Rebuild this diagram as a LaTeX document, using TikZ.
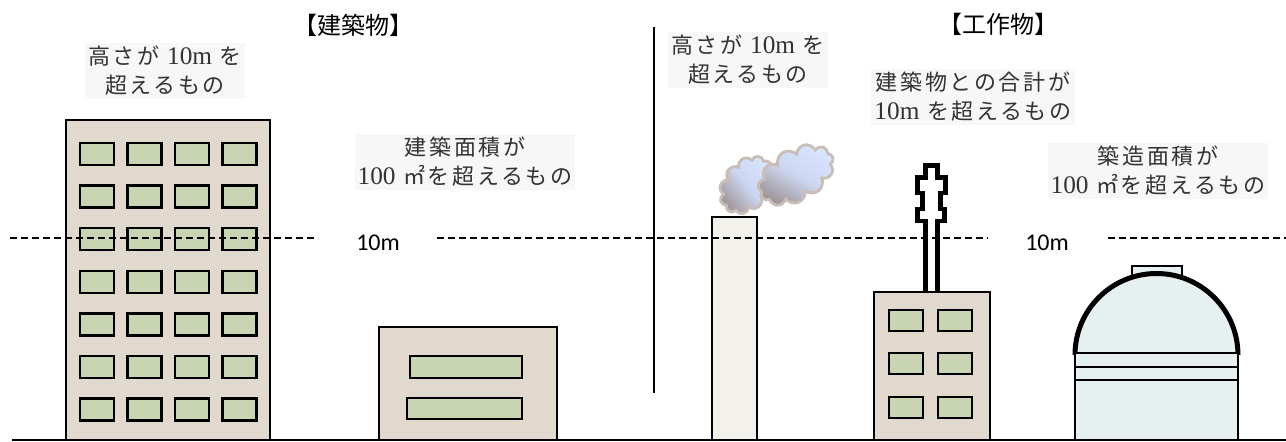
\documentclass[tikz,border=0pt]{standalone}
\usepackage{fontspec}
\setmainfont{Noto Sans CJK JP}
\newfontfamily\notefont[LetterSpace=12]{Noto Sans CJK JP}
\newfontfamily\latinfont[Scale=1.15]{Liberation Serif}
\newfontfamily\numfont{Carlito}
\newcommand\lat[1]{{\latinfont #1}}
\usetikzlibrary{math,shapes.symbols}

\definecolor{wall}{HTML}{E2D9CE}
\definecolor{pane}{HTML}{C9D4B3}
\definecolor{stack}{HTML}{F3F1EC}
\definecolor{tank}{HTML}{E7F0F1}
\definecolor{puffline}{HTML}{C9BDB5}
\definecolor{pufftop}{HTML}{D8E5FF}
\definecolor{puffmid}{HTML}{CCD6F0}
\definecolor{puffbot}{HTML}{A0979A}

\tikzset{
  wallbox/.style={draw,fill=wall,line width=1.6pt},
  winbox/.style={draw,fill=pane,line width=2.4pt},
  notebox/.style={align=center,fill=black!3,inner sep=3pt,text=black!80,
    font=\notefont\fontsize{22}{29}\selectfont},
  titletext/.style={font=\fontsize{24}{26}\selectfont},
  tenlabel/.style={font=\numfont\fontsize{24}{26}\selectfont},
  tenline/.style={line width=2pt,dash pattern=on 7pt off 4pt},
  smoke/.style={cloud,cloud puffs=11,draw=puffline,line width=2.8pt,
    top color=pufftop,bottom color=puffbot,middle color=puffmid}
}

\begin{document}
\begin{tikzpicture}[x=1pt,y=-1pt]
  \useasboundingbox (0,0) rectangle (1286,442);

  % tall building, 4 x 7 windows
  \draw[wallbox] (66,120) rectangle (270,440);
  \foreach \r in {0,...,6}
    \foreach \c in {0,...,3} {
      \tikzmath{
        real \wx, \wy;
        \wx = 80 + 47.5*\c;
        \wy = 143 + 42.6*\r;
      }
      \draw[winbox] (\wx,\wy) rectangle ++(34,22);
    }

  % low building
  \draw[wallbox] (379,327) rectangle (557,440);
  \draw[winbox] (410,356) rectangle (522,378);
  \draw[winbox] (407,398) rectangle (522,419);

  % divider
  \draw[line width=2.6pt] (654,27) -- (654,393);

  % chimney and smoke
  \draw[fill=stack,line width=1.6pt] (712,217) rectangle (757,440);
  \node[smoke,shading angle=-50,minimum width=64pt,minimum height=48pt,rotate=50] (puffa) at (747,185) {};
  \node[smoke,shading angle=-30,minimum width=82pt,minimum height=52pt,rotate=30] (puffb) at (796,175) {};

  % antenna on the small building
  \draw[fill=white,line width=4.5pt]
    (925.5,165.5) -- (937.5,165.5) -- (937.5,177.5) -- (945.5,177.5) -- (945.5,193)
    -- (940.5,193) -- (940.5,209) -- (944.5,209) -- (944.5,221) -- (937.5,221)
    -- (937.5,294) -- (925.5,294) -- (925.5,221) -- (917.5,221) -- (917.5,209)
    -- (922.5,209) -- (922.5,193) -- (917.5,193) -- (917.5,177.5) -- (925.5,177.5) -- cycle;
  \draw[wallbox] (874,292) rectangle (990,440);
  \foreach \wy in {310,353,397}
    \foreach \wx in {889,938}
      \draw[winbox] (\wx,\wy) rectangle ++(34,21);

  % tank with dome
  \draw[fill=tank,line width=1.6pt] (1132,266) rectangle (1182,276);
  \draw[fill=tank,line width=5pt] (1075,355) arc[start angle=180,end angle=360,radius=81.5];
  \draw[fill=tank,line width=2pt] (1075,353) rectangle (1238,440);
  \draw[line width=2pt] (1075,367) -- (1238,367) (1075,380) -- (1238,380);

  % 10m level
  \node[tenlabel] (tena) at (378,243) {10m};
  \node[tenlabel] (tenb) at (1047,243) {10m};
  \draw[tenline] (10,238) -- (318,238);
  \draw[tenline] (437,238) -- (988,238);
  \draw[tenline] (1108,238) -- (1286,238);

  % ground
  \draw[line width=2.6pt] (12,440) -- (1286,440);

  % headings and notes
  \node[titletext] (bldg) at (353,25) {【建築物】};
  \node[titletext] (work) at (998,24) {【工作物】};
  \node[notebox] (bldgh) at (165,71) {高さが \lat{10m} を\\超えるもの};
  \node[notebox] (bldga) at (465,162) {建築面積が\\\lat{100} ㎡を超えるもの};
  \node[notebox] (workh) at (748,60) {高さが \lat{10m} を\\超えるもの};
  \node[notebox] (works) at (973,97) {建築物との合計が\\\lat{10m} を超えるもの};
  \node[notebox] (worka) at (1158,171) {築造面積が\\\lat{100} ㎡を超えるもの};
\end{tikzpicture}
\end{document}
